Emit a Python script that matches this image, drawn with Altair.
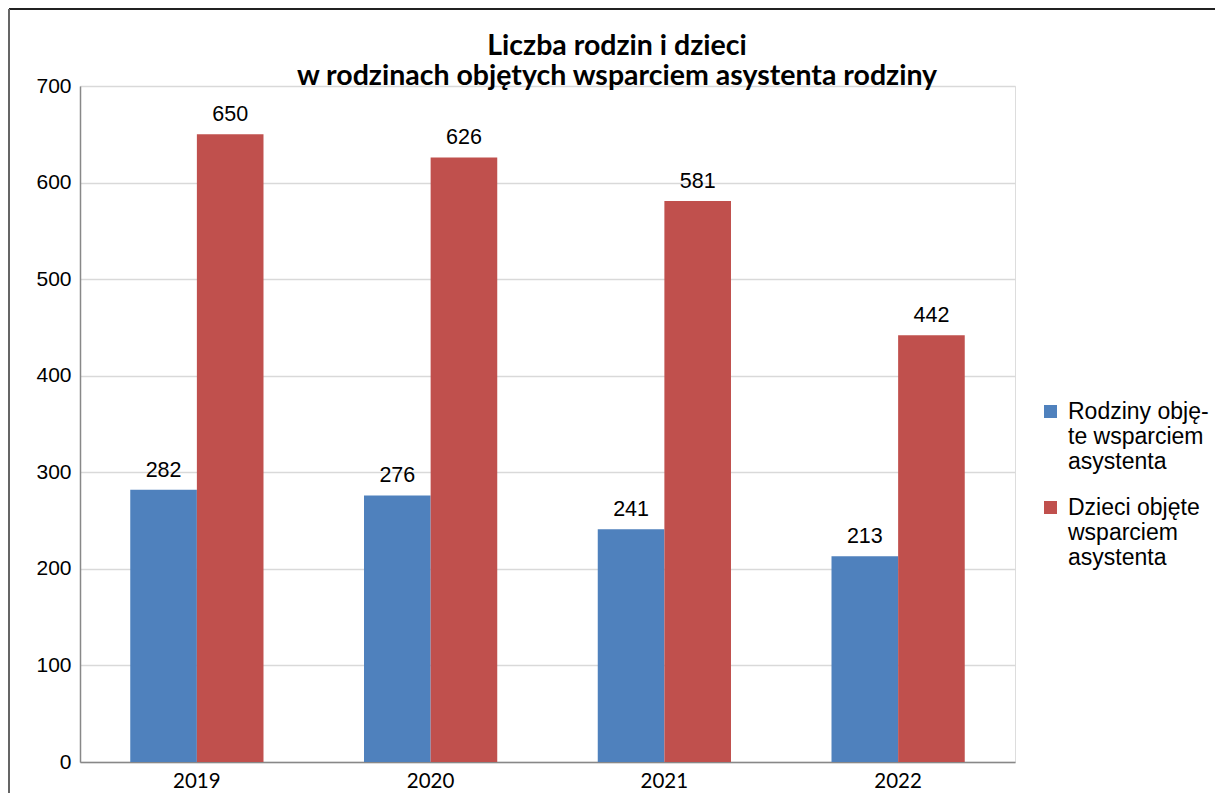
import altair as alt
import pandas as pd

years = ["2019", "2020", "2021", "2022"]
rodziny = [282, 276, 241, 213]
dzieci = [650, 626, 581, 442]
series = ["Rodziny objęte wsparciem asystenta", "Dzieci objęte wsparciem asystenta"]
legend_lines = [["Rodziny obję-", "te wsparciem", "asystenta"],
                ["Dzieci objęte", "wsparciem", "asystenta"]]
colors = ["#4F81BD", "#C0504D"]
y_ticks = [0, 100, 200, 300, 400, 500, 600, 700]
title_lines = ["Liczba rodzin i dzieci", "w rodzinach objętych wsparciem asystenta rodziny"]

rows = []
for i, yr in enumerate(years):
    rows.append({"rok": yr, "seria": series[0], "wartosc": rodziny[i]})
    rows.append({"rok": yr, "seria": series[1], "wartosc": dzieci[i]})
df = pd.DataFrame(rows)

label_expr = " : ".join(
    [f"datum.label == '{s}' ? {legend_lines[i]}" for i, s in enumerate(series)]
) + " : datum.label"

W, H = 935, 676

x_enc = alt.X("rok:N", sort=years, title=None,
              scale=alt.Scale(paddingInner=0.43, paddingOuter=0.215),
              axis=alt.Axis(labelAngle=0, labelFont="Lato", labelFontSize=20.5,
                            labelColor="#000", labelPadding=9, ticks=False,
                            domainColor="#888", domainWidth=1.5))
y_enc = alt.Y("wartosc:Q", title=None,
              scale=alt.Scale(domain=[0, 700], nice=False),
              axis=alt.Axis(values=y_ticks, labelFont="Liberation Sans", labelFontSize=21,
                            labelColor="#000", labelPadding=9, ticks=False,
                            domainColor="#888", domainWidth=1.5,
                            gridColor="#d9d9d9", gridWidth=1.5))
xoff = alt.XOffset("seria:N", sort=series)

bars = alt.Chart(df).mark_bar().encode(
    x=x_enc, y=y_enc, xOffset=xoff,
    color=alt.Color("seria:N", sort=series,
                    scale=alt.Scale(domain=series, range=colors),
                    legend=alt.Legend(title=None, orient="none", legendX=959, legendY=314,
                                      labelExpr=label_expr, labelFont="Liberation Sans",
                                      labelFontSize=23, labelColor="#000",
                                      symbolType="square", symbolSize=169,
                                      symbolStrokeWidth=0, rowPadding=22,
                                      labelOffset=6, labelLimit=300))
)

labels = alt.Chart(df).mark_text(font="Liberation Sans", fontSize=21.5, color="#000",
                                 baseline="bottom", dy=-8).encode(
    x=alt.X("rok:N", sort=years), y="wartosc:Q", xOffset=xoff,
    text="wartosc:Q")

title_df = pd.DataFrame({"t": [title_lines]})
title = alt.Chart(title_df).mark_text(font="Lato", fontSize=28.5, fontWeight="bold",
                                      color="#000", align="center", baseline="alphabetic",
                                      lineHeight=30).encode(
    x=alt.value(537), y=alt.value(-31), text="t")

frame_top = alt.Chart(df).mark_rule(color="#222", strokeWidth=1.5).encode(
    x=alt.value(-71), x2=alt.value(1223 - 80), y=alt.value(-77))
frame_left = alt.Chart(df).mark_rule(color="#666", strokeWidth=1.5).encode(
    x=alt.value(-71), y=alt.value(-77), y2=alt.value(800))

chart = alt.layer(frame_top, frame_left, bars, labels, title).properties(
    width=W, height=H,
    autosize=alt.AutoSizeParams(type="none"),
    padding={"left": 72, "top": 78, "right": 200, "bottom": 31},
).configure_view(stroke=None).configure(background="white")

chart.save("out.html", embed_options={"renderer": "svg", "actions": False})
